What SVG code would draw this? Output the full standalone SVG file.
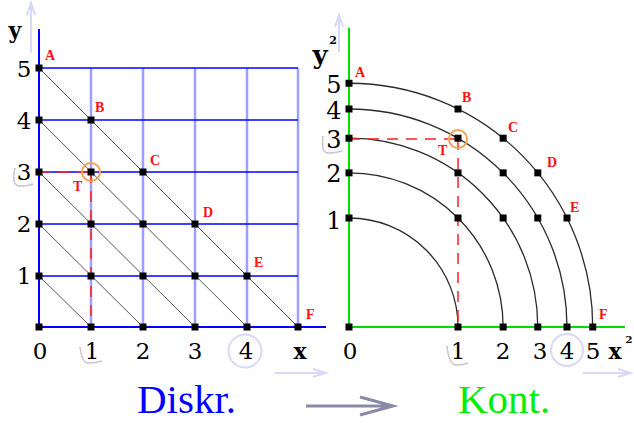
<svg xmlns="http://www.w3.org/2000/svg" width="634" height="423" viewBox="0 0 634 423">
<style>
.num{font-family:"DejaVu Serif",serif;font-size:23px;fill:#000;text-anchor:middle}
.numr{font-family:"DejaVu Serif",serif;font-size:24px;fill:#000;text-anchor:middle}
.ax{font-family:"DejaVu Serif",serif;font-weight:bold;fill:#000}
.lbl{font-family:"Liberation Serif",serif;font-weight:bold;font-size:14px;fill:#ff1010}
.hz{stroke:#0000ff;stroke-width:1.5}
.vt{stroke:#9f9fff;stroke-width:2.5}
.diag{stroke:#555;stroke-width:1}
.arc{stroke:#2a2a2a;stroke-width:1.3;fill:none}
.dash{stroke:#ff2020;stroke-width:1.5;stroke-dasharray:11 8;fill:none}
.ring{stroke:#f5a050;stroke-width:2;fill:none}
.hint{stroke:#d8d8f8;stroke-width:2;fill:none}
.hook{stroke:#c8c8f0;stroke-width:1.5;fill:none}
.hookdot{stroke:#f0b060;stroke-width:1;stroke-dasharray:1 2;fill:none}
.nd{fill:#000}
.big{font-family:"Liberation Serif",serif;font-size:41px}
</style>
<defs>
<rect id="n" x="-3.5" y="-3.5" width="7" height="7" class="nd"/>
</defs>

<g id="left-grid">
<line x1="39" y1="29" x2="39" y2="327" stroke="#0000ff" stroke-width="2"/>
<line class="vt" x1="91" y1="68" x2="91" y2="327"/>
<line class="vt" x1="143" y1="68" x2="143" y2="327"/>
<line class="vt" x1="195" y1="68" x2="195" y2="327"/>
<line class="vt" x1="247" y1="68" x2="247" y2="327"/>
<line class="vt" x1="298" y1="68" x2="298" y2="327"/>
<line class="hz" x1="39" y1="68" x2="298" y2="68"/>
<line class="hz" x1="39" y1="120" x2="298" y2="120"/>
<line class="hz" x1="39" y1="172" x2="298" y2="172"/>
<line class="hz" x1="39" y1="224" x2="298" y2="224"/>
<line class="hz" x1="39" y1="276" x2="298" y2="276"/>
<line x1="39" y1="327" x2="326" y2="327" stroke="#0000ff" stroke-width="2"/>
</g>

<g id="left-connectors">
<line class="diag" x1="39" y1="68" x2="298" y2="327"/>
<line class="diag" x1="39" y1="120" x2="247" y2="327"/>
<line class="diag" x1="39" y1="172" x2="195" y2="327"/>
<line class="diag" x1="39" y1="224" x2="143" y2="327"/>
<line class="diag" x1="39" y1="276" x2="91" y2="327"/>
<path class="dash" d="M39 172 H91 M91 172 V327"/>
</g>

<g id="left-nodes">
<use href="#n" x="39" y="68"/><use href="#n" x="39" y="120"/><use href="#n" x="39" y="172"/><use href="#n" x="39" y="224"/><use href="#n" x="39" y="276"/><use href="#n" x="39" y="327"/>
<use href="#n" x="91" y="120"/><use href="#n" x="91" y="172"/><use href="#n" x="91" y="224"/><use href="#n" x="91" y="276"/><use href="#n" x="91" y="327"/>
<use href="#n" x="143" y="172"/><use href="#n" x="143" y="224"/><use href="#n" x="143" y="276"/><use href="#n" x="143" y="327"/>
<use href="#n" x="195" y="224"/><use href="#n" x="195" y="276"/><use href="#n" x="195" y="327"/>
<use href="#n" x="247" y="276"/><use href="#n" x="247" y="327"/>
<use href="#n" x="298" y="327"/>
<circle class="ring" cx="91" cy="172" r="9"/>
</g>

<g id="left-labels">
<text class="lbl" x="45" y="60">A</text>
<text class="lbl" x="95" y="112">B</text>
<text class="lbl" x="150" y="165">C</text>
<text class="lbl" x="203" y="217">D</text>
<text class="lbl" x="254" y="267">E</text>
<text class="lbl" x="306" y="319">F</text>
<text class="lbl" x="73" y="191">T</text>
<text class="ax" x="15" y="38" font-size="22" text-anchor="middle">y</text>
<text class="num" x="24" y="77">5</text>
<text class="num" x="24" y="129">4</text>
<text class="num" x="24" y="180">3</text>
<text class="num" x="24" y="232">2</text>
<text class="num" x="24" y="284">1</text>
<text class="num" x="40" y="359">0</text>
<text class="num" x="92" y="359">1</text>
<text class="num" x="143" y="359">2</text>
<text class="num" x="195" y="359">3</text>
<text class="num" x="246" y="359">4</text>
<text class="ax" x="300" y="359" font-size="22" text-anchor="middle">x</text>
</g>

<g id="right-axes">
<line x1="349" y1="28" x2="349" y2="327" stroke="#00dd00" stroke-width="2"/>
<line x1="349" y1="327" x2="625" y2="327" stroke="#00dd00" stroke-width="2"/>
</g>

<g id="right-connectors">
<path class="arc" d="M349 218 A109 109 0 0 1 458 327"/>
<path class="arc" d="M349 172.85 A154.15 154.15 0 0 1 503.15 327"/>
<path class="arc" d="M349 138.21 A188.79 188.79 0 0 1 537.79 327"/>
<path class="arc" d="M349 109 A218 218 0 0 1 567 327"/>
<path class="arc" d="M349 83.27 A243.73 243.73 0 0 1 592.73 327"/>
<path class="dash" d="M349 139 H458 M458 139 V327"/>
</g>

<g id="right-nodes">
<use href="#n" x="349" y="83.27"/><use href="#n" x="349" y="109"/><use href="#n" x="349" y="138.21"/><use href="#n" x="349" y="172.85"/><use href="#n" x="349" y="218"/><use href="#n" x="349" y="327"/>
<use href="#n" x="458" y="109"/><use href="#n" x="458" y="138.21"/><use href="#n" x="458" y="172.85"/><use href="#n" x="458" y="218"/><use href="#n" x="458" y="327"/>
<use href="#n" x="503.15" y="138.21"/><use href="#n" x="503.15" y="172.85"/><use href="#n" x="503.15" y="218"/><use href="#n" x="503.15" y="327"/>
<use href="#n" x="537.79" y="172.85"/><use href="#n" x="537.79" y="218"/><use href="#n" x="537.79" y="327"/>
<use href="#n" x="567" y="218"/><use href="#n" x="567" y="327"/>
<use href="#n" x="592.73" y="327"/>
<circle class="ring" cx="458" cy="139" r="9"/>
</g>

<g id="right-labels">
<text class="lbl" x="355" y="77">A</text>
<text class="lbl" x="462" y="102">B</text>
<text class="lbl" x="508" y="132">C</text>
<text class="lbl" x="547" y="167">D</text>
<text class="lbl" x="570" y="212">E</text>
<text class="lbl" x="599" y="319">F</text>
<text class="lbl" x="438" y="155">T</text>
<text class="ax" x="320" y="64" font-size="26" text-anchor="middle">y</text>
<text class="ax" x="333" y="44" font-size="11" text-anchor="middle">2</text>
<text class="numr" x="334" y="93">5</text>
<text class="numr" x="334" y="119">4</text>
<text class="numr" x="334" y="148">3</text>
<text class="numr" x="334" y="182">2</text>
<text class="numr" x="334" y="229">1</text>
<text class="num" x="350" y="359">0</text>
<text class="num" x="458" y="359">1</text>
<text class="num" x="503" y="359">2</text>
<text class="num" x="540" y="359">3</text>
<text class="num" x="567" y="359">4</text>
<text class="num" x="593" y="359">5</text>
<text class="ax" x="615" y="359" font-size="22" text-anchor="middle">x</text>
<text class="ax" x="629" y="343" font-size="10" text-anchor="middle">2</text>
</g>

<g id="annotations">
<path class="hint" d="M31 53 V4 M27 15 L31 3 L35 15"/>
<path class="hint" d="M339 52 V16 M335 27 L339 15 L343 27"/>
<path class="hint" d="M275 373 H325 M313 369 L326 373 L313 377"/>
<path class="hint" d="M583 373 H630 M618 369 L631 373 L618 377"/>
<circle class="hint" cx="245" cy="351" r="16.5"/>
<circle class="hint" cx="567" cy="350" r="16"/>
<path class="hook" d="M80 347 Q82 363 88 363 Q96 363 102 361"/>
<path class="hookdot" d="M80 347 Q82 363 88 363 Q96 363 102 361"/>
<path class="hook" d="M447 346 Q449 365 456 365 Q463 365 468 363"/>
<path class="hookdot" d="M447 346 Q449 365 456 365 Q463 365 468 363"/>
<path class="hook" d="M15 168 Q11 186 20 186 Q28 186 33 184"/>
<path class="hookdot" d="M15 168 Q11 186 20 186 Q28 186 33 184"/>
<path class="hook" d="M323 136 Q321 153 328 153 Q336 153 342 151"/>
<path class="hookdot" d="M323 136 Q321 153 328 153 Q336 153 342 151"/>
</g>

<g id="titles">
<text class="big" x="137" y="413" fill="#0000ff">Diskr.</text>
<path d="M306 406 H392 M360 397 L393 406 L360 415" stroke="#8a8aa8" stroke-width="3" fill="none"/>
<text class="big" x="458" y="413" fill="#00ee00">Kont.</text>
</g>
</svg>
